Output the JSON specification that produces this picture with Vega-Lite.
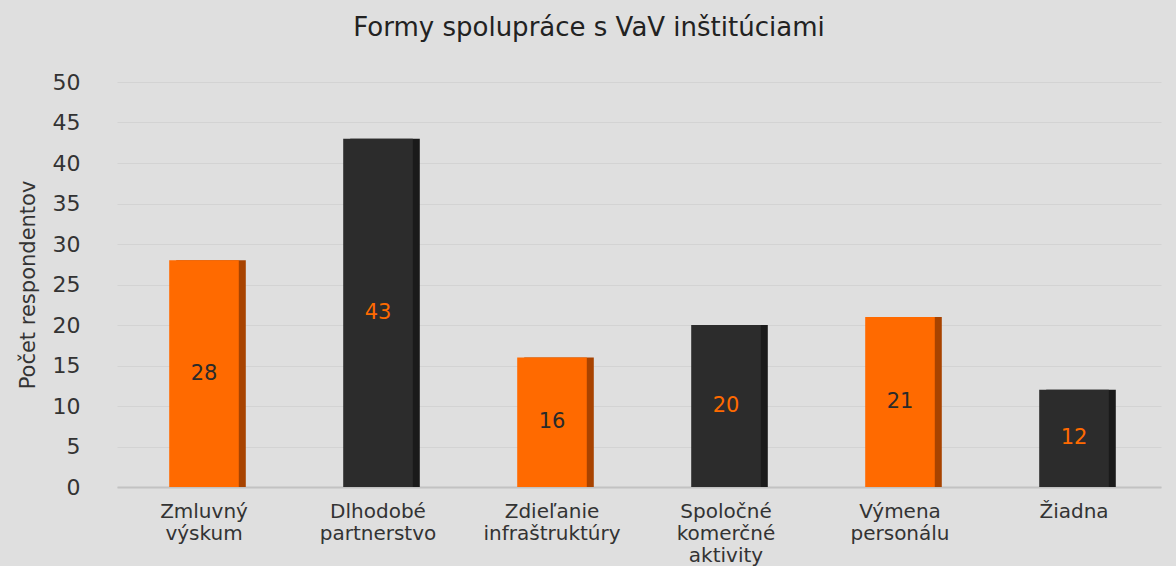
{
  "$schema": "https://vega.github.io/schema/vega-lite/v6.json",
  "autosize": {"type": "none"},
  "width": 1044,
  "height": 405,
  "padding": {"left": 117, "top": 82, "right": 15, "bottom": 79},
  "background": "#dfdfdf",
  "config": {
    "font": "DejaVu Sans",
    "view": {"stroke": null},
    "axis": {"labelFont": "DejaVu Sans", "titleFont": "DejaVu Sans"}
  },
  "title": {
    "text": "Formy spolupráce s VaV inštitúciami",
    "fontSize": 26,
    "fontWeight": "normal",
    "letterSpacing": 2.2,
    "color": "#222222",
    "frame": "bounds",
    "anchor": "middle",
    "offset": 30
  },
  "data": {
    "values": [
      {"kategoria": "Zmluvný výskum", "pocet": 28, "skupina": "A"},
      {"kategoria": "Dlhodobé partnerstvo", "pocet": 43, "skupina": "B"},
      {"kategoria": "Zdieľanie infraštruktúry", "pocet": 16, "skupina": "A"},
      {"kategoria": "Spoločné komerčné aktivity", "pocet": 20, "skupina": "B"},
      {"kategoria": "Výmena personálu", "pocet": 21, "skupina": "A"},
      {"kategoria": "Žiadna", "pocet": 12, "skupina": "B"}
    ]
  },
  "encoding": {
    "x": {
      "field": "kategoria",
      "type": "nominal",
      "sort": null,
      "scale": {"paddingInner": 0.6, "paddingOuter": 0.3},
      "axis": {
        "title": null,
        "labelAngle": 0,
        "labelExpr": "split(datum.label, ' ')",
        "labelFontSize": 20,
        "labelColor": "#333333",
        "labelLineHeight": 22,
        "labelPadding": 14,
        "ticks": false,
        "domain": true,
        "domainColor": "#c2c2c2",
        "domainWidth": 2
      }
    }
  },
  "layer": [
    {
      "mark": {"type": "bar", "width": {"band": 1}, "xOffset": 7},
      "encoding": {
        "y": {
          "field": "pocet",
          "type": "quantitative",
          "scale": {"domain": [0, 50]},
          "axis": {
            "title": "Počet respondentov",
            "titleFontSize": 21,
            "titleFontWeight": "normal",
            "titleColor": "#333333",
            "titlePadding": 14,
            "values": [0, 5, 10, 15, 20, 25, 30, 35, 40, 45, 50],
            "labelFontSize": 22,
            "labelColor": "#333333",
            "labelPadding": 37,
            "ticks": false,
            "domain": false,
            "grid": true,
            "gridColor": "#d3d3d3",
            "gridWidth": 1
          }
        },
        "color": {
          "field": "skupina",
          "type": "nominal",
          "scale": {"domain": ["A", "B"], "range": ["#a84300", "#1a1a1a"]},
          "legend": null
        }
      }
    },
    {
      "mark": {"type": "bar", "width": {"band": 1}},
      "encoding": {
        "y": {"field": "pocet", "type": "quantitative"},
        "color": {
          "field": "skupina",
          "type": "nominal",
          "scale": {"domain": ["A", "B"], "range": ["#ff6a00", "#2c2c2c"]},
          "legend": null
        }
      }
    },
    {
      "mark": {
        "type": "text",
        "fontSize": 21,
        "baseline": "middle",
        "yOffset": {"expr": "(scale('y', 0) - scale('y', datum.pocet)) / 2"}
      },
      "encoding": {
        "y": {"field": "pocet", "type": "quantitative"},
        "text": {"field": "pocet", "type": "quantitative"},
        "color": {
          "field": "skupina",
          "type": "nominal",
          "scale": {"domain": ["A", "B"], "range": ["#2a2a2a", "#ff6a00"]},
          "legend": null
        }
      }
    }
  ],
  "resolve": {"scale": {"color": "independent"}}
}
